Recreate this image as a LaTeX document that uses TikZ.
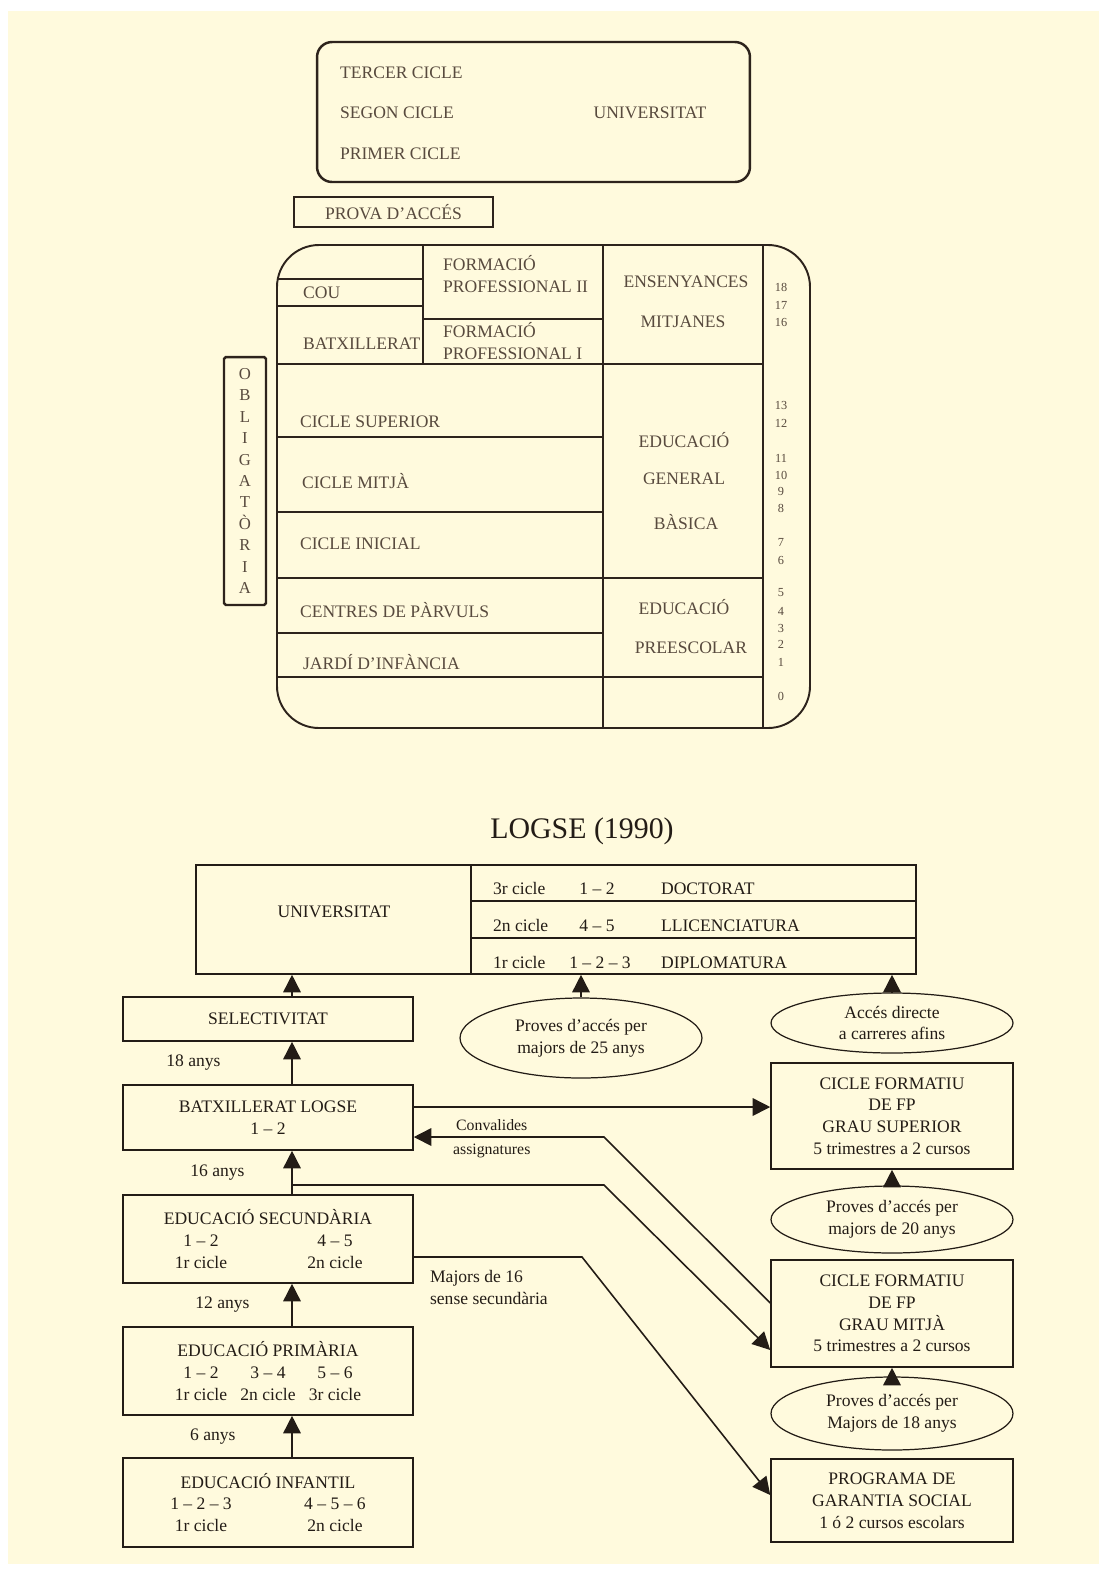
\documentclass[tikz,border=0pt]{standalone}
\usepackage{fontspec}
\setmainfont{Liberation Serif}
\usetikzlibrary{arrows.meta, positioning, shapes.geometric}

\definecolor{paper}{RGB}{255,250,221}
\definecolor{ink}{RGB}{35,28,22}
\definecolor{oldink}{RGB}{88,74,62}
\definecolor{rule}{RGB}{45,35,28}

\newcommand{\twocol}[2]{\makebox[2.68cm]{#1}\makebox[2.68cm]{#2}}
\newcommand{\threecol}[3]{\makebox[1.34cm]{#1}\makebox[1.34cm]{#2}\makebox[1.34cm]{#3}}

\begin{document}
\begin{tikzpicture}[
        x=0.02cm, y=-0.02cm,
        txt/.style={font=\fontsize{10}{12.4}\selectfont, text=ink, inner sep=1pt},
        oldtxt/.style={font=\fontsize{10}{12.4}\selectfont, text=oldink, inner sep=1pt},
        box/.style={draw=ink, line width=0.9pt, rectangle, align=center, txt, minimum width=5.8cm},
        rbox/.style={draw=ink, line width=0.9pt, rectangle, align=center, txt, minimum width=4.84cm},
        oval/.style={draw=ink, line width=0.7pt, ellipse, align=center, txt, inner sep=0pt, minimum width=4.84cm},
        arr/.style={-{Triangle[length=10pt, width=10pt]}, line width=0.9pt, draw=ink},
        rulers/.style={draw=rule, line width=1.1pt},
        num/.style={font=\fontsize{7}{8}\selectfont, text=oldink, inner sep=0pt}
    ]
        % Page
        \fill[white] (0,0) rectangle (1107,1573);
        \fill[paper] (8,11) rectangle (1099,1564);
        \useasboundingbox (0,0) rectangle (1107,1573);

        % Old system: university
        \node[draw=rule, line width=1.4pt, rounded corners=0.3cm, minimum width=8.66cm, minimum height=2.8cm] (univold) at (533.5,112) {};
        \node[oldtxt, anchor=west] (tercer) at (338,73) {TERCER CICLE};
        \node[oldtxt, anchor=west] (segon) at (338,113) {SEGON CICLE};
        \node[oldtxt, anchor=west] (primer) at (338,154) {PRIMER CICLE};
        \node[oldtxt] (univoldtxt) at (650,113) {UNIVERSITAT};
        \node[draw=rule, line width=1.4pt, minimum width=3.98cm, minimum height=0.6cm, oldtxt] (prova) at (393.5,212) {PROVA D’ACCÉS};

        % Old system: frame and rules
        \draw[rulers, rounded corners=0.84cm] (277,245) rectangle (810,728);
        \draw[rulers] (423,245) -- (423,364);
        \draw[rulers] (603,245) -- (603,728);
        \draw[rulers] (763,245) -- (763,728);
        \foreach \y/\xa/\xb in {279/277/423, 306/277/423, 319/423/603, 364/277/763, 437/277/603,
                                512/277/603, 578/277/763, 633/277/603, 677/277/763}
            \draw[rulers] (\xa,\y) -- (\xb,\y);

        % Old system: texts
        \node[oldtxt, anchor=west] (cou) at (301,293) {COU};
        \node[oldtxt, anchor=west] (batxold) at (301,344) {BATXILLERAT};
        \node[oldtxt, anchor=west, align=left] (fp2) at (441,274) {FORMACIÓ\\PROFESSIONAL II};
        \node[oldtxt, anchor=west, align=left] (fp1) at (441,341) {FORMACIÓ\\PROFESSIONAL I};
        \node[oldtxt] (ensenyances) at (686,282) {ENSENYANCES};
        \node[oldtxt] (mitjanes) at (683,322) {MITJANES};
        \node[oldtxt, anchor=west] (csup) at (298,422) {CICLE SUPERIOR};
        \node[oldtxt, anchor=west] (cmitja) at (300,481) {CICLE MITJÀ};
        \node[oldtxt, anchor=west] (cinicial) at (298,544) {CICLE INICIAL};
        \node[oldtxt, anchor=west] (parvuls) at (298,610) {CENTRES DE PÀRVULS};
        \node[oldtxt, anchor=west] (jardi) at (301,662) {JARDÍ D’INFÀNCIA};
        \node[oldtxt] (egb1) at (684,440) {EDUCACIÓ};
        \node[oldtxt] (egb2) at (684,479) {GENERAL};
        \node[oldtxt] (egb3) at (686,522) {BÀSICA};
        \node[oldtxt] (pre1) at (684,607) {EDUCACIÓ};
        \node[oldtxt] (pre2) at (691,648) {PREESCOLAR};
        \node[draw=rule, line width=1.4pt, rounded corners=1pt, minimum width=0.84cm, minimum height=4.96cm,
              align=center, font=\fontsize{9.5}{12.2}\selectfont, text=oldink] (oblig) at (245,481)
              {O\\B\\L\\I\\G\\A\\T\\Ò\\R\\I\\A};
        \foreach \n/\y in {18/287, 17/305, 16/322, 13/405, 12/423, 11/458, 10/475, 9/491, 8/508,
                           7/542, 6/560, 5/593, 4/611, 3/628, 2/644, 1/662, 0/696}
            \node[num] (yr\n) at (781,\y) {\n};

        % LOGSE
        \node[font=\fontsize{17}{20}\selectfont, text=ink] (logse) at (582,831) {LOGSE (1990)};
        \node[draw=ink, line width=0.9pt, minimum width=14.4cm, minimum height=2.18cm] (univ) at (556,919.5) {};
        \draw[ink, line width=0.9pt] (471,865) -- (471,974);
        \draw[ink, line width=0.9pt] (471,901) -- (916,901);
        \draw[ink, line width=0.9pt] (471,938) -- (916,938);
        \node[txt] (univtxt) at (334,912) {UNIVERSITAT};
        \node[txt, anchor=base west] (c3) at (491,894) {3r cicle};
        \node[txt, anchor=base] (c3y) at (597,894) {1 – 2};
        \node[txt, anchor=base west] (doct) at (659,894) {DOCTORAT};
        \node[txt, anchor=base west] (c2) at (491,931) {2n cicle};
        \node[txt, anchor=base] (c2y) at (597,931) {4 – 5};
        \node[txt, anchor=base west] (llic) at (659,931) {LLICENCIATURA};
        \node[txt, anchor=base west] (c1) at (491,968) {1r cicle};
        \node[txt, anchor=base] (c1y) at (600,968) {1 – 2 – 3};
        \node[txt, anchor=base west] (dipl) at (659,968) {DIPLOMATURA};

        % Left column
        \coordinate (spine) at (292,0);
        \node[box, minimum height=0.88cm] (sel) at (268,1019) {SELECTIVITAT};
        \node[box, minimum height=1.3cm] (batx) at (268,1117.5) {BATXILLERAT LOGSE\\1 – 2};
        \node[box, minimum height=1.76cm] (sec) at (268,1239)
            {EDUCACIÓ SECUNDÀRIA\\\twocol{1 – 2}{4 – 5}\\\twocol{1r cicle}{2n cicle}};
        \node[box, minimum height=1.76cm] (prim) at (268,1371)
            {EDUCACIÓ PRIMÀRIA\\\threecol{1 – 2}{3 – 4}{5 – 6}\\\threecol{1r cicle}{2n cicle}{3r cicle}};
        \node[box, minimum height=1.78cm] (inf) at (268,1502.5)
            {EDUCACIÓ INFANTIL\\\twocol{1 – 2 – 3}{4 – 5 – 6}\\\twocol{1r cicle}{2n cicle}};

        % Right column
        \node[oval, minimum height=1.6cm] (p25) at (581,1038) {Proves d’accés per\\majors de 25 anys};
        \node[oval, minimum height=1.2cm] (directe) at (892,1023) {Accés directe\\a carreres afins};
        \node[rbox, minimum height=2.12cm] (cfgs) at (892,1116) {CICLE FORMATIU\\DE FP\\GRAU SUPERIOR\\5 trimestres a 2 cursos};
        \node[oval, minimum height=1.34cm] (p20) at (892,1219.5) {Proves d’accés per\\majors de 20 anys};
        \node[rbox, minimum height=2.14cm] (cfgm) at (892,1313.5) {CICLE FORMATIU\\DE FP\\GRAU MITJÀ\\5 trimestres a 2 cursos};
        \node[oval, minimum height=1.46cm] (p18) at (892,1413.5) {Proves d’accés per\\Majors de 18 anys};
        \node[rbox, minimum height=1.66cm] (pgs) at (892,1500.5) {PROGRAMA DE\\GARANTIA SOCIAL\\1 ó 2 cursos escolars};

        % Arrows
        \draw[arr] (sel.north -| spine) -- (univ.south -| spine);
        \draw[arr] (p25.north) -- (p25.north |- univ.south);
        \draw[arr] (directe.north) -- (directe.north |- univ.south);
        \draw[arr] (batx.north -| spine) -- node[midway, left=1.38cm, txt] (age18) {18 anys} (sel.south -| spine);
        \draw[arr] (sec.north -| spine) -- node[midway, left=0.9cm, txt] (age16) {16 anys} (batx.south -| spine);
        \draw[arr] (prim.north -| spine) -- node[midway, left=0.8cm, txt] (age12) {12 anys} (sec.south -| spine);
        \draw[arr] (inf.north -| spine) -- node[midway, left=1.08cm, txt] (age6) {6 anys} (prim.south -| spine);
        \draw[arr] (p20.north) -- (cfgs.south);
        \draw[arr] (p18.north) -- (cfgm.south);

        \coordinate (fpline) at (0,1107);
        \draw[arr] (batx.east |- fpline) -- (cfgs.west |- fpline);

        \coordinate (convbend) at (604,1137);
        \draw[arr] ([yshift=0.21cm]cfgm.west) -- (convbend)
            -- node[pos=0.59, above, font=\fontsize{9}{10}\selectfont, text=ink] (conv) {Convalides}
               node[pos=0.59, below, font=\fontsize{9}{10}\selectfont, text=ink] (assig) {assignatures}
            (batx.east |- convbend);

        \coordinate (secbend) at (604,1185);
        \draw[arr] (spine |- secbend) -- (secbend) -- ([yshift=-0.73cm]cfgm.west);

        \coordinate (pgsbend) at (582,1257);
        \draw[arr] (sec.east |- pgsbend) -- (pgsbend) -- ([yshift=0.11cm]pgs.west);
        \node[txt, align=left, anchor=north west] (maj16) at (428,1268) {Majors de 16\\sense secundària};

    \end{tikzpicture}
\end{document}
